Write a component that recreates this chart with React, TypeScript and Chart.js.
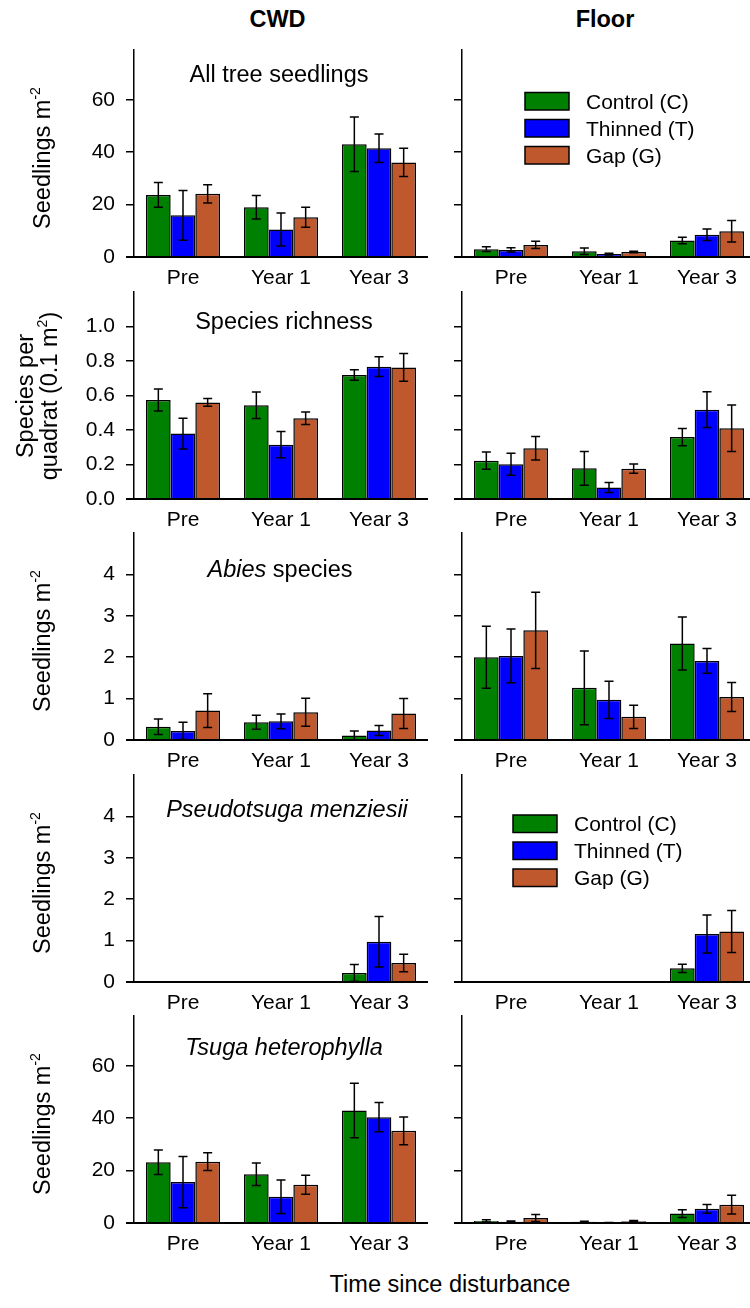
import React, { useEffect, useRef } from "react";
import { Chart, registerables } from "chart.js";

Chart.register(...registerables);

// ---- data -------------------------------------------------------------
const categories = ["Pre", "Year 1", "Year 3"];
const treatments = ["Control (C)", "Thinned (T)", "Gap (G)"];
const treatmentColors = ["#008000", "#0000FF", "#C0582D"];

// Rows: Control, Thinned, Gap. Columns: Pre, Year 1, Year 3.
const allTreeCwdMean = [[23.7, 19.0, 43.0], [15.9, 10.5, 41.5], [24.1, 15.2, 36.1]];
const allTreeCwdSe = [[4.7, 4.5, 10.4], [9.5, 6.3, 5.4], [3.5, 3.8, 5.4]];
const allTreeFloorMean = [[3.0, 2.2, 6.3], [2.7, 1.1, 8.5], [4.6, 1.9, 9.8]];
const allTreeFloorSe = [[0.9, 1.2, 1.2], [0.8, 0.3, 2.2], [1.4, 0.3, 4.1]];

const richnessCwdMean = [[0.574, 0.543, 0.719], [0.379, 0.315, 0.767], [0.56, 0.468, 0.763]];
const richnessCwdSe = [[0.064, 0.077, 0.031], [0.089, 0.076, 0.057], [0.022, 0.036, 0.081]];
const richnessFloorMean = [[0.222, 0.178, 0.359], [0.201, 0.066, 0.518], [0.294, 0.176, 0.41]];
const richnessFloorSe = [[0.05, 0.098, 0.05], [0.064, 0.029, 0.104], [0.068, 0.027, 0.135]];

const abiesCwdMean = [[0.32, 0.43, 0.11], [0.22, 0.45, 0.23], [0.71, 0.67, 0.64]];
const abiesCwdSe = [[0.19, 0.17, 0.11], [0.21, 0.18, 0.12], [0.41, 0.34, 0.36]];
const abiesFloorMean = [[2.0, 1.26, 2.33], [2.03, 0.97, 1.91], [2.65, 0.56, 1.04]];
const abiesFloorSe = [[0.75, 0.89, 0.64], [0.65, 0.45, 0.3], [0.92, 0.28, 0.35]];

const pseudotsugaCwdMean = [[0, 0, 0.22], [0, 0, 0.97], [0, 0, 0.46]];
const pseudotsugaCwdSe = [[0, 0, 0.2], [0, 0, 0.61], [0, 0, 0.21]];
const pseudotsugaFloorMean = [[0, 0, 0.33], [0, 0, 1.16], [0, 0, 1.22]];
const pseudotsugaFloorSe = [[0, 0, 0.1], [0, 0, 0.46], [0, 0, 0.51]];

const tsugaCwdMean = [[23.2, 18.6, 42.9], [15.6, 10.0, 40.4], [23.4, 14.6, 35.2]];
const tsugaCwdSe = [[4.7, 4.3, 10.4], [9.8, 6.4, 5.6], [3.4, 3.6, 5.3]];
const tsugaFloorMean = [[0.8, 0.5, 3.6], [0.5, 0.1, 5.4], [1.9, 0.7, 7.0]];
const tsugaFloorSe = [[0.4, 0.2, 1.5], [0.3, 0.1, 1.7], [1.3, 0.3, 3.6]];

const seedlingTicks = [0, 20, 40, 60];
const richnessTicks = [0, 0.2, 0.4, 0.6, 0.8, 1.0];
const speciesTicks = [0, 1, 2, 3, 4];

const columnTitles = ["CWD", "Floor"];
const xAxisTitle = "Time since disturbance";

// ---- layout -----------------------------------------------------------
const FONT = '"Liberation Sans", Arial, Helvetica, sans-serif';
const ROW_TOPS = [50, 292, 533, 775, 1016];
const PLOT_H = 207;
const PAD_TOP = 12;
const X_AXIS_H = 45;
const TICK_LEN = 8;
const CAP = 4.5;
const TICK_FONT = 21;
const TITLE_FONT = 23.5;
const LEGEND_FONT = 21;

type TitlePart = { text: string; italic?: boolean };

interface PanelSpec {
  key: string;
  row: number;
  column: 0 | 1;
  mean: number[][];
  se: number[][];
  yMax: number;
  ticks: number[];
  digits: number;
  title?: TitlePart[];
  titleDx?: number;
  titleBaseline?: number;
  legend?: { dx: number; dy: number };
}

const panels: PanelSpec[] = [
  { key: "a1", row: 0, column: 0, mean: allTreeCwdMean, se: allTreeCwdSe, yMax: 79, ticks: seedlingTicks, digits: 0,
    title: [{ text: "All tree seedlings" }], titleDx: 145, titleBaseline: 31.5 },
  { key: "a2", row: 0, column: 1, mean: allTreeFloorMean, se: allTreeFloorSe, yMax: 79, ticks: seedlingTicks, digits: 0,
    legend: { dx: 63, dy: 42.5 } },
  { key: "b1", row: 1, column: 0, mean: richnessCwdMean, se: richnessCwdSe, yMax: 1.2, ticks: richnessTicks, digits: 1,
    title: [{ text: "Species richness" }], titleDx: 150, titleBaseline: 37 },
  { key: "b2", row: 1, column: 1, mean: richnessFloorMean, se: richnessFloorSe, yMax: 1.2, ticks: richnessTicks, digits: 1 },
  { key: "c1", row: 2, column: 0, mean: abiesCwdMean, se: abiesCwdSe, yMax: 5, ticks: speciesTicks, digits: 0,
    title: [{ text: "Abies", italic: true }, { text: " species" }], titleDx: 146, titleBaseline: 44 },
  { key: "c2", row: 2, column: 1, mean: abiesFloorMean, se: abiesFloorSe, yMax: 5, ticks: speciesTicks, digits: 0 },
  { key: "d1", row: 3, column: 0, mean: pseudotsugaCwdMean, se: pseudotsugaCwdSe, yMax: 5, ticks: speciesTicks, digits: 0,
    title: [{ text: "Pseudotsuga menziesii", italic: true }], titleDx: 153, titleBaseline: 42 },
  { key: "d2", row: 3, column: 1, mean: pseudotsugaFloorMean, se: pseudotsugaFloorSe, yMax: 5, ticks: speciesTicks, digits: 0,
    legend: { dx: 51, dy: 40 } },
  { key: "e1", row: 4, column: 0, mean: tsugaCwdMean, se: tsugaCwdSe, yMax: 79, ticks: seedlingTicks, digits: 0,
    title: [{ text: "Tsuga heterophylla", italic: true }], titleDx: 150, titleBaseline: 39 },
  { key: "e2", row: 4, column: 1, mean: tsugaFloorMean, se: tsugaFloorSe, yMax: 79, ticks: seedlingTicks, digits: 0 },
];

function Panel({ spec }: { spec: PanelSpec }) {
  const ref = useRef<HTMLCanvasElement | null>(null);
  const isLeft = spec.column === 0;
  const canvasLeft = isLeft ? 0 : 430;
  const canvasWidth = isLeft ? 430 : 330;
  const canvasTop = ROW_TOPS[spec.row] - PAD_TOP;
  const canvasHeight = PAD_TOP + PLOT_H + X_AXIS_H;

  useEffect(() => {
    const canvas = ref.current;
    if (!canvas) return;

    const decor = {
      id: "panelDecor",
      afterDatasetsDraw(chart: any) {
        const { ctx, chartArea, scales } = chart;
        const y = scales.y;
        ctx.save();
        ctx.strokeStyle = "#000";
        ctx.lineWidth = 1.5;
        spec.mean.forEach((series, i) => {
          const meta = chart.getDatasetMeta(i);
          series.forEach((v, j) => {
            const s = spec.se[i][j];
            if (!s) return;
            const bar: any = meta.data[j];
            const x = bar.x;
            const yt = y.getPixelForValue(v + s);
            const yb = y.getPixelForValue(Math.max(0, v - s));
            ctx.beginPath();
            ctx.moveTo(x, yt);
            ctx.lineTo(x, yb);
            ctx.moveTo(x - CAP, yt);
            ctx.lineTo(x + CAP, yt);
            ctx.moveTo(x - CAP, yb);
            ctx.lineTo(x + CAP, yb);
            ctx.stroke();
          });
        });
        // category axis baseline, running out under the zero tick
        ctx.lineWidth = 2;
        ctx.beginPath();
        ctx.moveTo(chartArea.left - TICK_LEN, chartArea.bottom);
        ctx.lineTo(chartArea.right, chartArea.bottom);
        ctx.stroke();
        ctx.restore();
      },
      afterDraw(chart: any) {
        const { ctx, chartArea } = chart;
        ctx.save();
        ctx.fillStyle = "#000";
        if (spec.title) {
          const fontFor = (p: TitlePart) => `${p.italic ? "italic " : ""}${TITLE_FONT}px ${FONT}`;
          const widths = spec.title.map((p) => {
            ctx.font = fontFor(p);
            return ctx.measureText(p.text).width;
          });
          const total = widths.reduce((a, b) => a + b, 0);
          let x = chartArea.left + (spec.titleDx ?? 0) - total / 2;
          ctx.textAlign = "left";
          ctx.textBaseline = "alphabetic";
          spec.title.forEach((p, k) => {
            ctx.font = fontFor(p);
            ctx.fillText(p.text, x, chartArea.top + (spec.titleBaseline ?? 0));
            x += widths[k];
          });
        }
        if (spec.legend) {
          const bw = 44;
          const bh = 17.5;
          treatments.forEach((name, i) => {
            const bx = chartArea.left + spec.legend!.dx;
            const by = chartArea.top + spec.legend!.dy + i * 27;
            ctx.fillStyle = treatmentColors[i];
            ctx.fillRect(bx, by, bw, bh);
            ctx.strokeStyle = "#000";
            ctx.lineWidth = 1.5;
            ctx.strokeRect(bx, by, bw, bh);
            ctx.fillStyle = "#000";
            ctx.font = `${LEGEND_FONT}px ${FONT}`;
            ctx.textAlign = "left";
            ctx.textBaseline = "alphabetic";
            ctx.fillText(name, bx + bw + 17, by + bh / 2 + LEGEND_FONT * 0.358);
          });
        }
        ctx.restore();
      },
    };

    const chart = new Chart(canvas, {
      type: "bar",
      data: {
        labels: categories,
        datasets: treatments.map((name, i) => ({
          label: name,
          data: spec.mean[i],
          backgroundColor: treatmentColors[i],
          borderColor: "#000",
          borderWidth: 1.5,
          categoryPercentage: 0.755,
          barPercentage: 1,
        })),
      },
      options: {
        responsive: false,
        animation: false,
        layout: { padding: { top: PAD_TOP, right: isLeft ? 2 : 4, left: 0, bottom: 0 } },
        plugins: {
          legend: { display: false },
          tooltip: { enabled: false },
        },
        scales: {
          x: {
            grid: { display: false, drawTicks: false },
            border: { display: false },
            ticks: {
              color: "#000",
              font: { family: FONT, size: TICK_FONT },
              padding: 9,
              maxRotation: 0,
              autoSkip: false,
            },
            afterFit: (s: any) => {
              s.height = X_AXIS_H;
              s.paddingLeft = 0;
              s.paddingRight = 0;
            },
          },
          y: {
            min: 0,
            max: spec.yMax,
            grid: {
              drawOnChartArea: false,
              drawTicks: true,
              tickLength: TICK_LEN,
              color: "#000",
              lineWidth: 1.5,
            },
            border: { display: true, color: "#000", width: 1.5 },
            ticks: {
              color: "#000",
              font: { family: FONT, size: TICK_FONT },
              padding: 11,
              callback: (v: any) => (isLeft ? Number(v).toFixed(spec.digits) : ""),
            },
            afterBuildTicks: (s: any) => {
              s.ticks = spec.ticks.map((value) => ({ value }));
            },
            afterFit: (s: any) => {
              s.width = isLeft ? 134 : 32;
              s.paddingTop = 0;
              s.paddingBottom = 0;
            },
          },
        },
      },
      plugins: [decor],
    } as any);

    return () => chart.destroy();
  }, [spec]);

  return (
    <canvas
      ref={ref}
      width={canvasWidth}
      height={canvasHeight}
      style={{ position: "absolute", left: canvasLeft, top: canvasTop, width: canvasWidth, height: canvasHeight }}
    />
  );
}

const sup: React.CSSProperties = { fontSize: "0.6em", position: "relative", top: "-0.7em" };

function YTitle({ row, cx, dy, children }: { row: number; cx: number; dy: number; children: React.ReactNode }) {
  return (
    <div
      style={{
        position: "absolute",
        left: cx,
        top: ROW_TOPS[row] + PLOT_H / 2 + dy,
        transform: "translate(-50%, -50%) rotate(-90deg)",
        whiteSpace: "nowrap",
        fontSize: TITLE_FONT,
        lineHeight: "24px",
        textAlign: "center",
        color: "#000",
      }}
    >
      {children}
    </div>
  );
}

export default function App() {
  const headerCenters = [277.5, 605];
  return (
    <div
      style={{
        position: "absolute",
        left: 0,
        top: 0,
        width: 750,
        height: 1308,
        overflow: "hidden",
        background: "#fff",
        fontFamily: FONT,
      }}
    >
      {columnTitles.map((t, i) => (
        <div
          key={t}
          style={{
            position: "absolute",
            left: headerCenters[i] - 100,
            width: 200,
            top: 20 - TITLE_FONT / 2,
            fontSize: TITLE_FONT,
            lineHeight: `${TITLE_FONT}px`,
            fontWeight: "bold",
            textAlign: "center",
          }}
        >
          {t}
        </div>
      ))}
      {panels.map((p) => (
        <Panel key={p.key} spec={p} />
      ))}
      {[0, 2, 3, 4].map((r) => (
        <YTitle key={r} row={r} cx={43} dy={4}>
          Seedlings m<span style={sup}>-2</span>
        </YTitle>
      ))}
      <YTitle row={1} cx={38} dy={0}>
        Species per
        <br />
        quadrat (0.1 m<span style={sup}>2</span>)
      </YTitle>
      <div
        style={{
          position: "absolute",
          left: 250,
          width: 400,
          top: 1285 - TITLE_FONT / 2,
          fontSize: TITLE_FONT,
          lineHeight: `${TITLE_FONT}px`,
          textAlign: "center",
        }}
      >
        {xAxisTitle}
      </div>
    </div>
  );
}
